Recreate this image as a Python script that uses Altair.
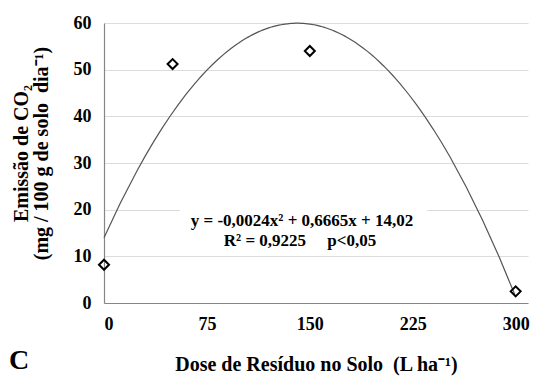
import altair as alt
import pandas as pd

# ---- data ----
dose = [0, 50, 150, 300]
co2 = [8.2, 51.2, 54.0, 2.5]
x_ticks = [0, 75, 150, 225, 300]
y_ticks = [0, 10, 20, 30, 40, 50, 60]
eq_line1 = "y = -0,0024x² + 0,6665x + 14,02"
eq_line2 = "R² = 0,9225\u00a0\u00a0\u00a0\u00a0\u00a0p<0,05"
x_title = "Dose de Resíduo no Solo\u00a0\u00a0(L ha⁻¹)"
y_title = ["Emissão de CO₂", "(mg / 100 g de solo\u00a0\u00a0dia⁻¹)"]
panel_letter = "C"

df = pd.DataFrame({"dose": dose, "co2": co2})
one = pd.DataFrame({"k": [0]})
FONT = "Liberation Serif"

x_enc = alt.X(
    "dose:Q",
    scale=alt.Scale(domain=[0, 309], nice=False),
    axis=alt.Axis(
        values=x_ticks, title=x_title, grid=False, ticks=False,
        labelPadding=12,
        titleBaseline="alphabetic", titleY=67,
    ),
)
y_enc = alt.Y(
    "co2:Q",
    scale=alt.Scale(domain=[0, 60], nice=False),
    axis=alt.Axis(
        values=y_ticks, title=y_title, grid=True, ticks=False,
        labelPadding=13,
        titleAngle=270, titleX=-77, titleY=130, titleAlign="center",
        titleBaseline="alphabetic", titleLineHeight=20,
    ),
)

base = alt.Chart(df)

fit = base.transform_regression(
    "dose", "co2", method="poly", order=2
).mark_line(color="#555555", strokeWidth=1.2).encode(x=x_enc, y=y_enc)

pts = base.mark_point(
    shape="diamond", filled=False, stroke="black", strokeWidth=2, size=100, opacity=1
).encode(x=x_enc, y=y_enc)

box = alt.Chart(one).mark_rect(color="white").encode(
    x=alt.value(76), x2=alt.value(323), y=alt.value(180), y2=alt.value(228)
)

txt_style = dict(font=FONT, fontSize=17, fontWeight="bold", align="center",
                 baseline="middle", color="black")
t1 = alt.Chart(one).mark_text(**txt_style).encode(
    x=alt.value(198), y=alt.value(198), text=alt.value(eq_line1))
t2 = alt.Chart(one).mark_text(**txt_style).encode(
    x=alt.value(196), y=alt.value(218), text=alt.value(eq_line2))

letter = alt.Chart(one).mark_text(
    font=FONT, fontSize=28, fontWeight="bold", align="center",
    baseline="alphabetic", color="black"
).encode(x=alt.value(-85), y=alt.value(346), text=alt.value(panel_letter))

chart = alt.layer(box, fit, pts, t1, t2, letter).properties(
    width=424, height=280,
    autosize=alt.AutoSizeParams(type="none"),
    padding={"left": 104, "top": 23, "right": 16, "bottom": 73},
    background="white",
).configure_view(stroke=None).configure_axis(
    domainColor="#868686", domainWidth=1.2,
    gridColor="#dcdcdc", gridWidth=1,
    labelFont=FONT, labelFontSize=18, labelFontWeight="bold", labelColor="black",
    titleFont=FONT, titleFontSize=20, titleFontWeight="bold", titleColor="black",
)

chart.save("out.html", embed_options={"renderer": "svg", "actions": False})
